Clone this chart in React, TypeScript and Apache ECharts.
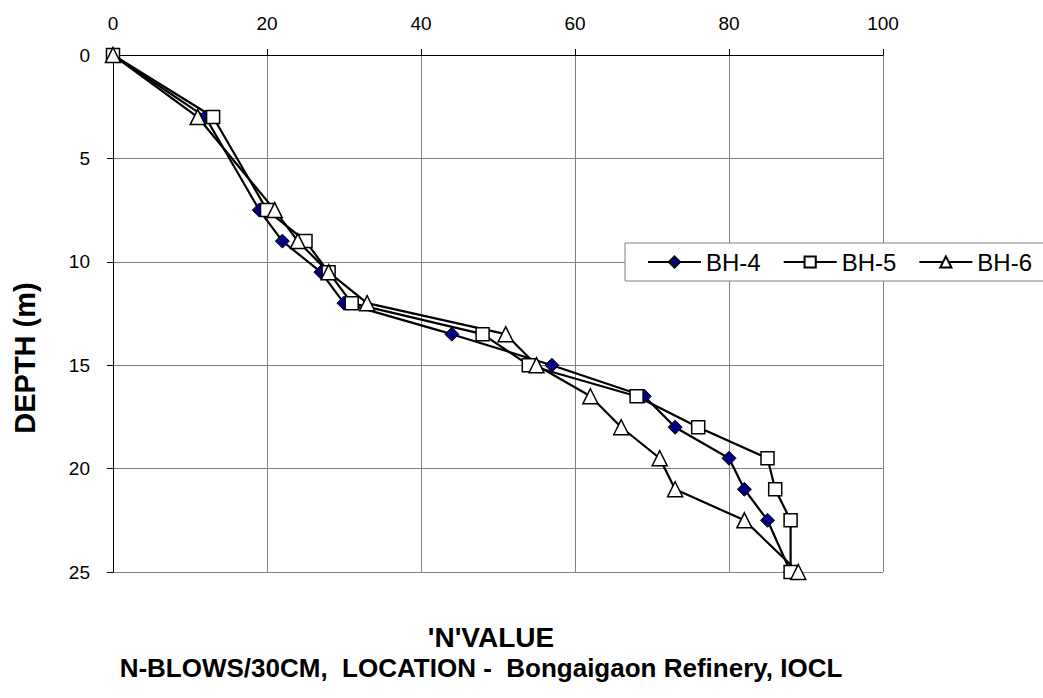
import React, { useEffect, useRef } from "react";
import * as echarts from "echarts";

const depths = [0, 3, 7.5, 9, 10.5, 12, 13.5, 15, 16.5, 18, 19.5, 21, 22.5, 25];
const bh4 = [0, 12, 19, 22, 27, 30, 44, 57, 69, 73, 80, 82, 85, 88];
const bh5 = [0, 13, 20, 25, 28, 31, 48, 54, 68, 76, 85, 86, 88, 88];
const bh6 = [0, 11, 21, 24, 28, 33, 51, 55, 62, 66, 71, 73, 82, 89];
const seriesNames = ["BH-4", "BH-5", "BH-6"];
const xAxisTitle = "'N'VALUE";
const subTitle = "N-BLOWS/30CM,  LOCATION -  Bongaigaon Refinery, IOCL";
const yAxisTitle = "DEPTH (m)";

const FONT = "'Liberation Sans', Arial, Helvetica, sans-serif";

function pairs(vals: number[]) {
  return vals.map((v, i) => [v, depths[i]]);
}

export default function App() {
  const ref = useRef<HTMLDivElement>(null);
  useEffect(() => {
    if (!ref.current) return;
    const chart = echarts.init(ref.current, undefined, { renderer: "svg" });
    const lineStyle = { color: "#000", width: 2.2 };
    chart.setOption({
      animation: false,
      backgroundColor: "#fff",
      grid: {
        left: 113,
        top: 55,
        right: 160,
        bottom: 126,
        containLabel: false,
        outerBoundsMode: "none",
      },
      xAxis: {
        type: "value",
        position: "top",
        min: 0,
        max: 100,
        interval: 20,
        axisLine: { show: true, lineStyle: { color: "#000", width: 1 } },
        axisTick: { show: true, inside: false, length: 6, lineStyle: { color: "#000" } },
        axisLabel: { color: "#000", fontSize: 19, fontFamily: FONT, margin: 22 },
        splitLine: { show: true, lineStyle: { color: "#808080", width: 1 } },
      },
      yAxis: {
        type: "value",
        inverse: true,
        min: 0,
        max: 25,
        interval: 5,
        axisLine: { show: true, lineStyle: { color: "#000", width: 1 } },
        axisTick: { show: true, inside: false, length: 6, lineStyle: { color: "#000" } },
        axisLabel: { color: "#000", fontSize: 19, fontFamily: FONT, margin: 23 },
        splitLine: { show: true, lineStyle: { color: "#808080", width: 1 } },
      },
      legend: {
        data: seriesNames,
        left: 625,
        top: 243,
        width: 440,
        orient: "horizontal",
        padding: [7, 30, 7, 22],
        itemGap: 22,
        itemWidth: 53,
        itemHeight: 14,
        backgroundColor: "#fff",
        borderColor: "#808080",
        borderWidth: 1,
        borderRadius: 0,
        textStyle: { color: "#000", fontSize: 24, fontFamily: FONT, lineHeight: 24 },
      },
      graphic: [
        {
          type: "text",
          x: 491,
          y: 637,
          style: {
            text: xAxisTitle,
            font: `bold 28px ${FONT}`,
            fill: "#000",
            textAlign: "center",
            textVerticalAlign: "middle",
          },
        },
        {
          type: "text",
          x: 481,
          y: 668,
          style: {
            text: subTitle,
            font: `bold 26px ${FONT}`,
            fill: "#000",
            textAlign: "center",
            textVerticalAlign: "middle",
          },
        },
        {
          type: "text",
          x: 25,
          y: 358,
          rotation: Math.PI / 2,
          style: {
            text: yAxisTitle,
            font: `bold 29px ${FONT}`,
            fill: "#000",
            textAlign: "center",
            textVerticalAlign: "middle",
          },
        },
      ],
      series: [
        {
          name: seriesNames[0],
          type: "line",
          data: pairs(bh4),
          symbol: "diamond",
          symbolSize: 14,
          showAllSymbol: true,
          lineStyle,
          itemStyle: { color: "#000080", borderColor: "#000", borderWidth: 1 },
          emphasis: { disabled: true },
        },
        {
          name: seriesNames[1],
          type: "line",
          data: pairs(bh5),
          symbol: "rect",
          symbolSize: 13,
          showAllSymbol: true,
          lineStyle,
          itemStyle: { color: "#fff", borderColor: "#000", borderWidth: 1.5 },
          emphasis: { disabled: true },
        },
        {
          name: seriesNames[2],
          type: "line",
          data: pairs(bh6),
          symbol: "triangle",
          symbolSize: 15,
          showAllSymbol: true,
          lineStyle,
          itemStyle: { color: "#fff", borderColor: "#000", borderWidth: 1.5 },
          emphasis: { disabled: true },
        },
      ],
    });
    return () => chart.dispose();
  }, []);
  return (
    <div
      ref={ref}
      style={{ position: "fixed", left: 0, top: 0, width: 1043, height: 698 }}
    />
  );
}
